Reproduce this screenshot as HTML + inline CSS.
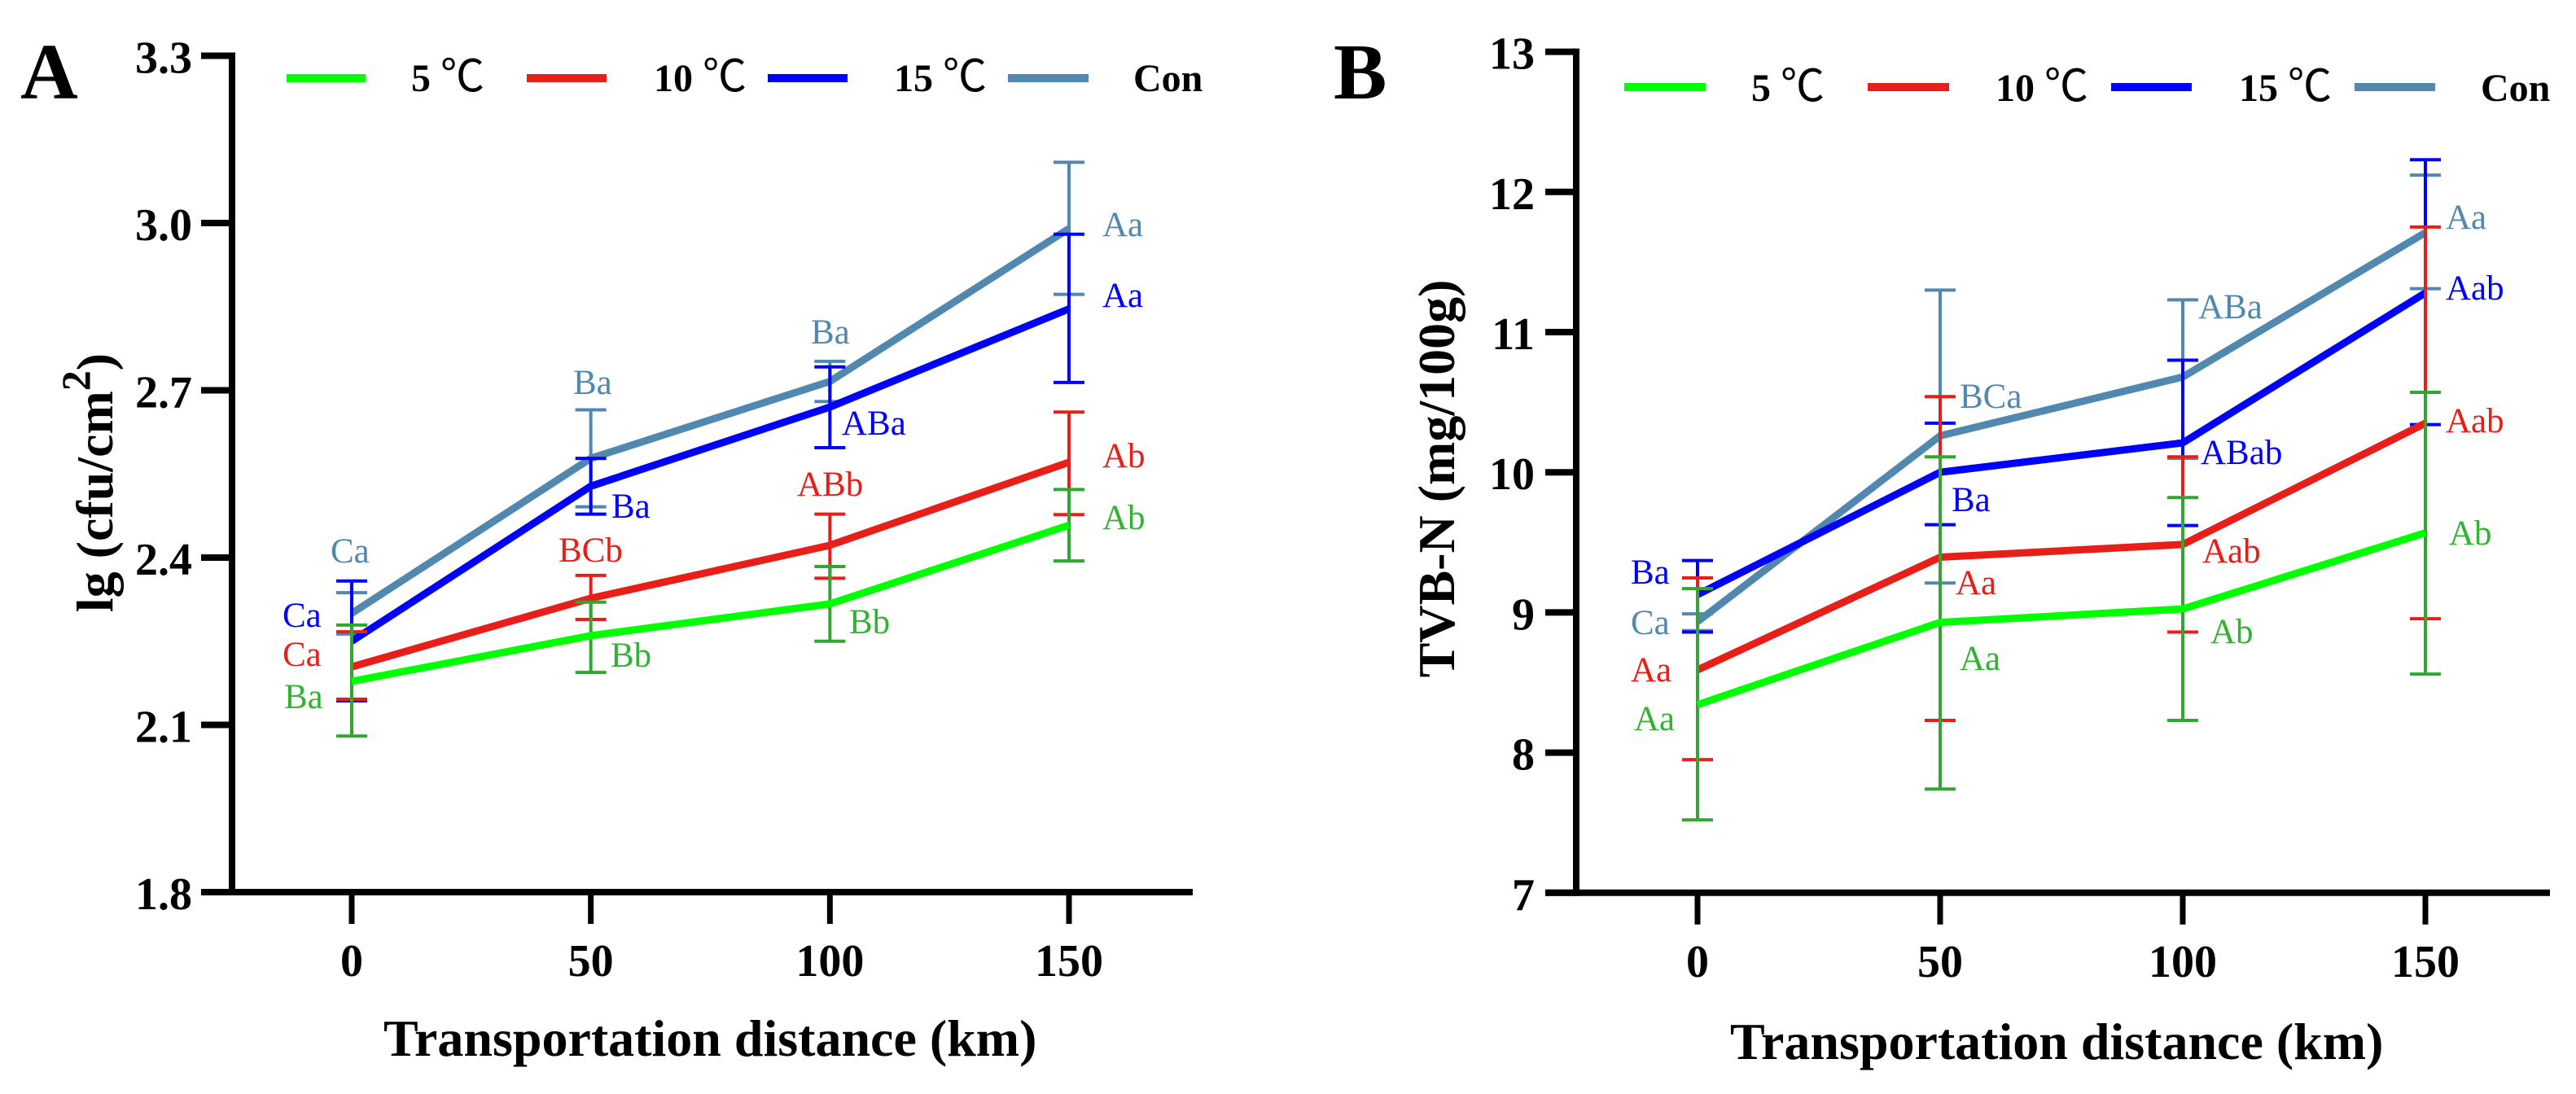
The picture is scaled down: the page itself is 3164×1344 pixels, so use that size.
<!DOCTYPE html>
<html lang="en">
<head>
<meta charset="utf-8">
<title>Bacterial count and TVB-N vs transportation distance</title>
<style>
html,body{margin:0;padding:0;background:#fff;}
svg{display:block;}
text{font-family:"Liberation Serif","Noto Sans CJK SC",serif;}
.tick{font-size:56px;font-weight:bold;fill:#000;}
.title{font-size:64px;font-weight:bold;fill:#000;}
.panel{font-size:98px;font-weight:bold;fill:#000;}
.leg{font-size:48px;font-weight:bold;fill:#000;}
.deg{font-family:"Noto Sans CJK SC","Liberation Sans",sans-serif;font-weight:normal;font-size:54px;}
.sig{font-size:43px;}
.g{fill:#33b233;}.r{fill:#e81f18;}.b{fill:#0000ff;}.c{fill:#5088b0;}
</style>
</head>
<body>
<svg id="figure" xmlns="http://www.w3.org/2000/svg" width="3164" height="1344" viewBox="0 0 3164 1344">
  <rect x="0" y="0" width="3164" height="1344" fill="#ffffff"/>

  <g id="panelA">
    <g id="plotA"></g>
    <text class="panel" x="25" y="121">A</text>
    <text class="title" text-anchor="middle" transform="translate(138 593) rotate(-90)"><tspan>lg (cfu/cm</tspan><tspan dy="-28" font-size="50">2</tspan><tspan dy="28">)</tspan></text>
    <text class="title" x="471" y="1297">Transportation distance (km)</text>

    <g>
      <rect x="352" y="91" width="97" height="10" fill="#00ff00"/>
      <text class="leg" x="505" y="112">5 <tspan class="deg">℃</tspan></text>
      <rect x="647" y="91" width="98" height="10" fill="#e81f18"/>
      <text class="leg" x="803" y="112">10 <tspan class="deg">℃</tspan></text>
      <rect x="943" y="91" width="98" height="10" fill="#0000ff"/>
      <text class="leg" x="1098" y="112">15 <tspan class="deg">℃</tspan></text>
      <rect x="1238" y="91" width="99" height="10" fill="#5088b0"/>
      <text class="leg" x="1392" y="112">Con</text>
    </g>

    <g>
      <text class="sig c" x="406" y="691">Ca</text>
      <text class="sig c" x="704" y="484">Ba</text>
      <text class="sig c" x="996" y="422">Ba</text>
      <text class="sig c" x="1354" y="290">Aa</text>
      <text class="sig b" x="347" y="770">Ca</text>
      <text class="sig b" x="751" y="636">Ba</text>
      <text class="sig b" x="1034" y="534">ABa</text>
      <text class="sig b" x="1354" y="377">Aa</text>
      <text class="sig r" x="347" y="818">Ca</text>
      <text class="sig r" x="686" y="690">BCb</text>
      <text class="sig r" x="979" y="609">ABb</text>
      <text class="sig r" x="1354" y="574">Ab</text>
      <text class="sig g" x="349" y="870">Ba</text>
      <text class="sig g" x="750" y="819">Bb</text>
      <text class="sig g" x="1043" y="778">Bb</text>
      <text class="sig g" x="1354" y="650">Ab</text>
    </g>
  </g>

  <g id="panelB">
    <g id="plotB"></g>
    <text class="panel" x="1638" y="121">B</text>
    <text class="title" text-anchor="middle" transform="translate(1786 588) rotate(-90)">TVB-N (mg/100g)</text>
    <text class="title" x="2125" y="1301">Transportation distance (km)</text>

    <g>
      <rect x="1995" y="102" width="100" height="10" fill="#00ff00"/>
      <text class="leg" x="2151" y="124">5 <tspan class="deg">℃</tspan></text>
      <rect x="2294" y="102" width="100" height="10" fill="#e81f18"/>
      <text class="leg" x="2451" y="124">10 <tspan class="deg">℃</tspan></text>
      <rect x="2593" y="102" width="99" height="10" fill="#0000ff"/>
      <text class="leg" x="2750" y="124">15 <tspan class="deg">℃</tspan></text>
      <rect x="2892" y="102" width="99" height="10" fill="#5088b0"/>
      <text class="leg" x="3047" y="124">Con</text>
    </g>

    <g>
      <text class="sig c" x="2003" y="779">Ca</text>
      <text class="sig c" x="2407" y="501">BCa</text>
      <text class="sig c" x="2700" y="391">ABa</text>
      <text class="sig c" x="3004" y="281">Aa</text>
      <text class="sig b" x="2003" y="717">Ba</text>
      <text class="sig b" x="2397" y="628">Ba</text>
      <text class="sig b" x="2703" y="570">ABab</text>
      <text class="sig b" x="3004" y="368">Aab</text>
      <text class="sig r" x="2003" y="837">Aa</text>
      <text class="sig r" x="2402" y="730">Aa</text>
      <text class="sig r" x="2705" y="691">Aab</text>
      <text class="sig r" x="3004" y="531">Aab</text>
      <text class="sig g" x="2007" y="897">Aa</text>
      <text class="sig g" x="2407" y="823">Aa</text>
      <text class="sig g" x="2715" y="790">Ab</text>
      <text class="sig g" x="3008" y="669">Ab</text>
    </g>
  </g>
</svg>

<script>
const distances = [0, 50, 100, 150];

const aYTicks = ['1.8', '2.1', '2.4', '2.7', '3.0', '3.3'];
const bYTicks = ['7', '8', '9', '10', '11', '12', '13'];

const aConMean = [2.30, 2.578, 2.716, 2.99];
const aConUpper = [2.337, 2.665, 2.752, 3.109];
const aConLower = [2.263, 2.491, 2.68, 2.872];
const a15Mean = [2.25, 2.528, 2.67, 2.846];
const a15Upper = [2.358, 2.578, 2.742, 2.98];
const a15Lower = [2.143, 2.478, 2.597, 2.714];
const a10Mean = [2.204, 2.327, 2.422, 2.571];
const a10Upper = [2.267, 2.368, 2.478, 2.661];
const a10Lower = [2.146, 2.289, 2.363, 2.477];
const a5Mean = [2.178, 2.26, 2.317, 2.458];
const a5Upper = [2.279, 2.32, 2.384, 2.522];
const a5Lower = [2.08, 2.194, 2.25, 2.394];

const bConMean = [8.934, 10.26, 10.68, 11.71];
const bConUpper = [8.99, 11.3, 11.23, 12.12];
const bConLower = [8.87, 9.21, 10.1, 11.31];
const b15Mean = [9.127, 10.0, 10.21, 11.28];
const b15Upper = [9.37, 10.35, 10.80, 12.23];
const b15Lower = [8.86, 9.626, 9.62, 10.34];
const b10Mean = [8.59, 9.394, 9.485, 10.35];
const b10Upper = [9.246, 10.54, 10.11, 11.75];
const b10Lower = [7.95, 8.23, 8.86, 8.955];
const b5Mean = [8.342, 8.929, 9.025, 9.568];
const b5Upper = [9.17, 10.11, 9.82, 10.57];
const b5Lower = [7.52, 7.74, 8.23, 8.56];

const SVG_NS = 'http://www.w3.org/2000/svg';

function aX(d) { return 432 + d * (881 / 150); }
function aY(v) { return 1096 - (v - 1.8) * 685; }
function bX(d) { return 2085 + d * (894 / 150); }
function bY(v) { return 1096.8 - (v - 7) * 172.2; }

function seg(parent, x1, y1, x2, y2, color, width, name) {
  const el = document.createElementNS(SVG_NS, 'line');
  
  
  el.setAttribute('x1', x1);
  el.setAttribute('y1', y1);
  el.setAttribute('x2', x2);
  el.setAttribute('y2', y2);
  el.setAttribute('stroke', color);
  el.setAttribute('stroke-width', width);
  parent.appendChild(el);
}

function label(parent, x, y, anchor, str, name) {
  const el = document.createElementNS(SVG_NS, 'text');
  
  
  el.setAttribute('class', 'tick');
  el.setAttribute('x', x);
  el.setAttribute('y', y);
  el.setAttribute('text-anchor', anchor);
  el.textContent = str;
  parent.appendChild(el);
}

function drawAxes(parent, xFn, yFn, ticksY, axisX, xStart, xEnd, tickLabelX, xLabelY) {
  const y0 = yFn(parseFloat(ticksY[0]));
  const yTop = yFn(parseFloat(ticksY[ticksY.length - 1]));
  seg(parent, axisX, yTop - 4, axisX, y0 + 4, '#000', 8, 'y-axis-line');
  seg(parent, xStart, y0, xEnd, y0, '#000', 8, 'x-axis-line');
  ticksY.forEach(function (t) {
    const y = yFn(parseFloat(t));
    seg(parent, xStart, y, axisX, y, '#000', 8, 'y-axis-tick');
    label(parent, tickLabelX, y + 21, 'end', t, 'y-tick-label');
  });
  distances.forEach(function (d) {
    const x = xFn(d);
    seg(parent, x, y0, x, y0 + 39, '#000', 7, 'x-axis-tick');
    label(parent, x, xLabelY, 'middle', String(d), 'x-tick-label');
  });
}

function drawSeries(parent, xFn, yFn, mean, upper, lower, lineColor, barColor, name) {
  distances.forEach(function (d, i) {
    const x = xFn(d);
    const yu = yFn(upper[i]);
    const yl = yFn(lower[i]);
    seg(parent, x, yu, x, yl, barColor, 4, name + '-error-stem');
    seg(parent, x - 19, yu, x + 19, yu, barColor, 4, name + '-error-cap-upper');
    seg(parent, x - 19, yl, x + 19, yl, barColor, 4, name + '-error-cap-lower');
  });
  const pts = distances.map(function (d, i) {
    return xFn(d) + ',' + yFn(mean[i]);
  }).join(' ');
  const poly = document.createElementNS(SVG_NS, 'polyline');
  
  
  poly.setAttribute('points', pts);
  poly.setAttribute('fill', 'none');
  poly.setAttribute('stroke', lineColor);
  poly.setAttribute('stroke-width', 9);
  poly.setAttribute('stroke-linejoin', 'round');
  parent.appendChild(poly);
}

const plotA = document.getElementById('plotA');
const plotB = document.getElementById('plotB');

drawSeries(plotA, aX, aY, aConMean, aConUpper, aConLower, '#5088b0', '#5088b0', 'con');
drawSeries(plotA, aX, aY, a15Mean, a15Upper, a15Lower, '#0000ff', '#0000ff', 'series-15c');
drawSeries(plotA, aX, aY, a10Mean, a10Upper, a10Lower, '#e81f18', '#e81f18', 'series-10c');
drawSeries(plotA, aX, aY, a5Mean, a5Upper, a5Lower, '#00ff00', '#33a533', 'series-5c');
drawAxes(plotA, aX, aY, aYTicks, 285, 247, 1465, 236, 1199);

drawSeries(plotB, bX, bY, bConMean, bConUpper, bConLower, '#5088b0', '#5088b0', 'con');
drawSeries(plotB, bX, bY, b15Mean, b15Upper, b15Lower, '#0000ff', '#0000ff', 'series-15c');
drawSeries(plotB, bX, bY, b10Mean, b10Upper, b10Lower, '#e81f18', '#e81f18', 'series-10c');
drawSeries(plotB, bX, bY, b5Mean, b5Upper, b5Lower, '#00ff00', '#33a533', 'series-5c');
drawAxes(plotB, bX, bY, bYTicks, 1936, 1898, 3132, 1885, 1200);
</script>
</body>
</html>
